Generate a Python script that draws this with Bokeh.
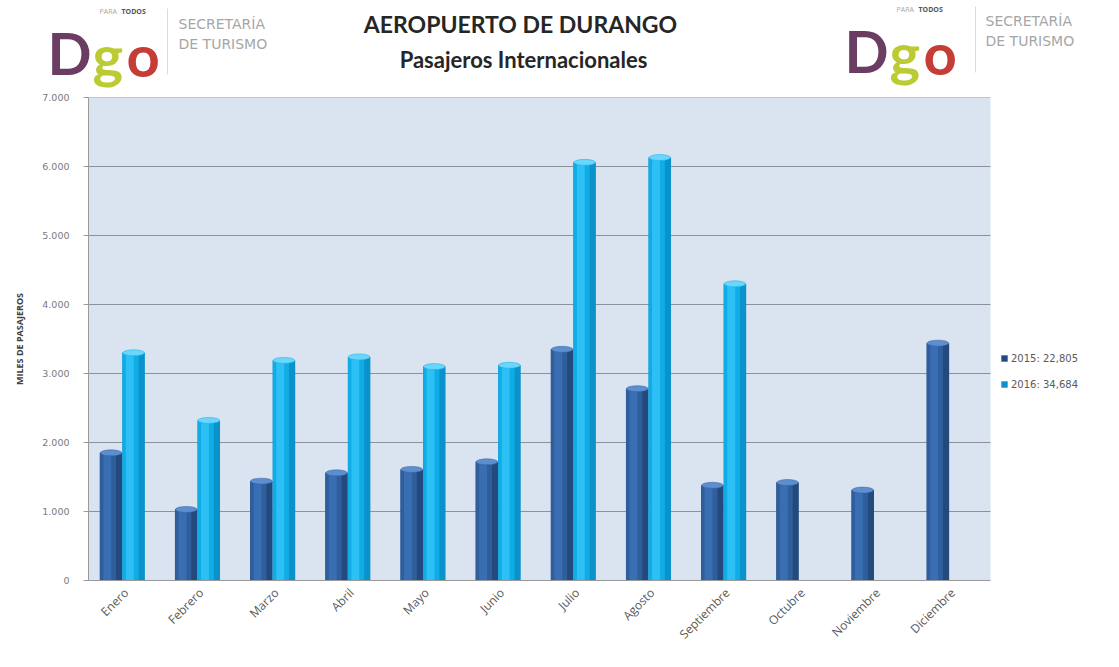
import math
from bokeh.plotting import figure
from bokeh.models import (ColumnDataSource, Legend, LegendItem, FixedTicker, Range1d,
                          BoxAnnotation)
from bokeh.core.properties import value
from bokeh.transform import dodge
from bokeh.embed import file_html
from bokeh.resources import INLINE

# ---------------- data ----------------
months = ["Enero", "Febrero", "Marzo", "Abril", "Mayo", "Junio", "Julio",
          "Agosto", "Septiembre", "Octubre", "Noviembre", "Diciembre"]
pax_2015 = [1850, 1030, 1440, 1560, 1610, 1720, 3350, 2780, 1380, 1420, 1310, 3440]
months_2016 = months[:9]
pax_2016 = [3300, 2320, 3190, 3240, 3100, 3120, 6060, 6130, 4300]
legend_labels = ["2015: 22,805", "2016: 34,684"]
y_ticks = [0, 1000, 2000, 3000, 4000, 5000, 6000, 7000]
y_tick_labels = ["0", "1.000", "2.000", "3.000", "4.000", "5.000", "6.000", "7.000"]
title_1 = "AEROPUERTO DE DURANGO"
title_2 = "Pasajeros Internacionales"
y_title = "MILES DE PASAJEROS"

W_TOTAL = 1103
HEADER_H = 90

# ---------------- header (title + logos) ----------------
h = figure(width=W_TOTAL, height=HEADER_H, x_range=Range1d(0, W_TOTAL),
           y_range=Range1d(HEADER_H, 0), output_backend="svg", toolbar_location=None,
           x_axis_type=None, y_axis_type=None, min_border=0)
h.grid.visible = False
h.outline_line_color = None
h.background_fill_color = "white"


def htext(x, y, t, size, color, font="Lato", style="normal", align="left",
          baseline="middle"):
    h.text(x=[x], y=[y], text=[t], text_font=value(font), text_font_size=size,
           text_color=color, text_font_style=style, text_align=align,
           text_baseline=baseline)


htext(520, 23, title_1, "23px", "#262626", style="bold", align="center")
htext(523, 59, title_2, "22px", "#262626", style="bold", align="center")


def logo(x0, yb, xs, xt, yt):
    htext(x0, yb, "D", "58px", "#6b3d63", style="bold", baseline="alphabetic")
    htext(x0 + 45, yb + 2, "g", "58px", "#bccb34", style="bold", baseline="alphabetic")
    htext(x0 + 79, yb + 2, "o", "58px", "#c63c36", style="bold", baseline="alphabetic")
    htext(x0 + 52, yb - 41, "PARA", "7px", "#a8a8a8", font="Open Sans")
    htext(x0 + 74, yb - 41, "TODOS", "7px", "#555555", font="Open Sans", style="bold")
    h.segment(x0=[xs], y0=[yb - 44], x1=[xs], y1=[yb + 22], line_color="#dcdcdc",
              line_width=1)
    htext(xt, yt, "SECRETARÍA", "14px", "#a6a6a6", font="DejaVu Sans")
    htext(xt, yt + 20, "DE TURISMO", "14px", "#a6a6a6", font="DejaVu Sans")


logo(47, 52, 167, 178, 23)
logo(844, 50, 975, 985, 20)

# ---------------- main chart ----------------
N = len(months)
PLOT_W = 902            # width of the shaded plot area (px)
FRAME_W = 1010          # frame also holds the legend on the right
x_end = N * FRAME_W / PLOT_W
centers = [i + 0.5 for i in range(N)]

src15 = ColumnDataSource(dict(x=[c - 0.2 for c in centers], v=pax_2015))
src16 = ColumnDataSource(dict(x=[c + 0.1 for c in centers[:len(pax_2016)]], v=pax_2016))

p = figure(width=W_TOTAL, height=651 - HEADER_H, x_range=Range1d(0, x_end),
           y_range=Range1d(0, 7000), output_backend="svg", toolbar_location=None,
           min_border_left=88, min_border_right=W_TOTAL - 88 - FRAME_W,
           min_border_top=7, min_border_bottom=64)
p.background_fill_color = "white"
p.border_fill_color = "white"
p.outline_line_color = None
p.grid.grid_line_color = None

# shaded plot area + horizontal gridlines limited to the category region
p.add_layout(BoxAnnotation(left=0, right=N, bottom=y_ticks[0], top=y_ticks[-1],
                           fill_color="#dae4f0", fill_alpha=1, line_color=None,
                           level="image"))
p.segment(x0=[0] * len(y_ticks), x1=[N] * len(y_ticks), y0=y_ticks, y1=y_ticks,
          line_color="#8c929c", line_width=1)

p.yaxis.ticker = FixedTicker(ticks=y_ticks)
p.yaxis.major_label_overrides = {t: l for t, l in zip(y_ticks, y_tick_labels)}
p.yaxis.axis_line_color = "#9a9a9a"
p.yaxis.major_tick_line_color = "#9a9a9a"
p.yaxis.major_tick_out = 5
p.yaxis.major_tick_in = 0
p.yaxis.minor_tick_line_color = None
p.yaxis.major_label_standoff = 14
p.yaxis.major_label_text_font = "DejaVu Sans"
p.yaxis.major_label_text_font_size = "9.5px"
p.yaxis.major_label_text_color = "#7a7a7a"
p.yaxis.axis_label = y_title
p.yaxis.axis_label_text_font = "Open Sans"
p.yaxis.axis_label_text_font_size = "9px"
p.yaxis.axis_label_text_font_style = "bold"
p.yaxis.axis_label_text_color = "#404040"
p.yaxis.axis_label_standoff = 13

p.xaxis.ticker = FixedTicker(ticks=centers)
p.xaxis.major_label_overrides = {c: m for c, m in zip(centers, months)}
p.xaxis.bounds = (0, N)
p.xaxis.axis_line_color = "#9a9a9a"
p.xaxis.major_tick_line_color = None
p.xaxis.minor_tick_line_color = None
p.xaxis.major_label_orientation = math.pi / 4
p.xaxis.major_label_standoff = 4
p.xaxis.major_label_text_font = "Open Sans"
p.xaxis.major_label_text_font_size = "12px"
p.xaxis.major_label_text_color = "#5a5a5a"

W = 0.3
# 2015 (dark blue, cylinder-like shading)
r15 = p.vbar(x="x", top="v", width=W, source=src15, fill_color="#24497c", line_color=None)
p.vbar(x=dodge("x", -0.04), top="v", width=W * 0.72, source=src15,
       fill_color="#2f5e9c", line_color=None)
p.vbar(x=dodge("x", -0.05), top="v", width=W * 0.35, source=src15,
       fill_color="#3a6eb2", line_color=None)
p.ellipse(x="x", y="v", width=W * 0.96, height=6, height_units="screen", source=src15,
          fill_color="#5d8fd0", line_color="#2f5e9c", line_width=0.5)

# 2016 (cyan)
r16 = p.vbar(x="x", top="v", width=W, source=src16, fill_color="#0b92cb", line_color=None)
p.vbar(x=dodge("x", -0.04), top="v", width=W * 0.72, source=src16,
       fill_color="#10ace6", line_color=None)
p.vbar(x=dodge("x", -0.05), top="v", width=W * 0.35, source=src16,
       fill_color="#2cc0f5", line_color=None)
p.ellipse(x="x", y="v", width=W * 0.96, height=6, height_units="screen", source=src16,
          fill_color="#6ad6fb", line_color="#10ace6", line_width=0.5)

legend = Legend(items=[LegendItem(label=legend_labels[0], renderers=[r15]),
                       LegendItem(label=legend_labels[1], renderers=[r16])],
                location=(912, 189), background_fill_alpha=0, border_line_color=None,
                padding=0, margin=0, spacing=12, glyph_width=8, glyph_height=8,
                label_height=14, label_standoff=3,
                label_text_font="DejaVu Sans", label_text_font_size="10px",
                label_text_color="#5a5a5a")
p.add_layout(legend)

open("out.html", "w").write(file_html([h, p], INLINE))
